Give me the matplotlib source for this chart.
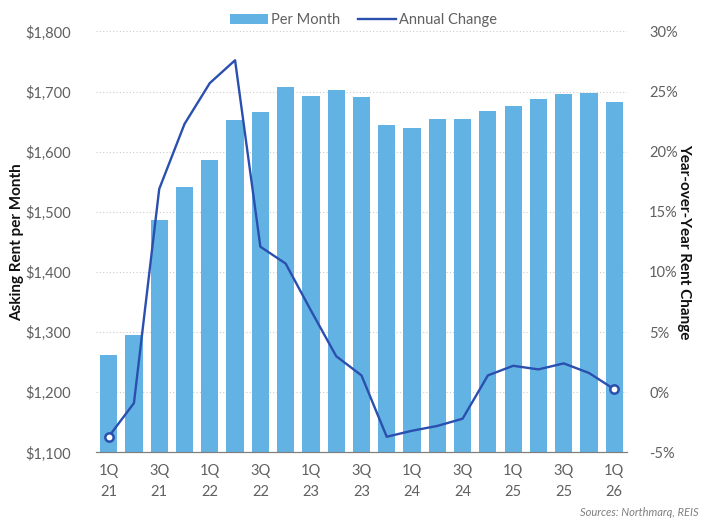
import matplotlib
matplotlib.use("Agg")
import matplotlib.pyplot as plt
from matplotlib.ticker import FuncFormatter, MultipleLocator

# quarters 1Q21 .. 1Q26
quarters = ["1Q21", "2Q21", "3Q21", "4Q21", "1Q22", "2Q22", "3Q22", "4Q22",
            "1Q23", "2Q23", "3Q23", "4Q23", "1Q24", "2Q24", "3Q24", "4Q24",
            "1Q25", "2Q25", "3Q25", "4Q25", "1Q26"]
rent_per_month = [1262, 1296, 1486, 1542, 1586, 1653, 1666, 1707, 1693, 1703,
                  1691, 1645, 1639, 1655, 1654, 1668, 1676, 1688, 1696, 1697, 1682]
annual_change = [-3.7, -0.9, 16.9, 22.3, 25.7, 27.6, 12.1, 10.7, 6.8, 3.0,
                 1.4, -3.7, -3.2, -2.8, -2.2, 1.4, 2.2, 1.9, 2.4, 1.6, 0.25]

bar_color = "#62B3E4"
line_color = "#2A4FAF"
tick_color = "#606060"

plt.rcParams["font.family"] = ["Lato", "DejaVu Sans"]

fig = plt.figure(figsize=(7.06, 5.23), dpi=100)
ax = fig.add_axes([0.136, 0.135, 0.752, 0.805])
ax2 = ax.twinx()

x = list(range(len(quarters)))
bars = ax.bar(x, rent_per_month, width=0.68, color=bar_color, zorder=2,
              label="Per Month")
line, = ax2.plot(x, annual_change, color=line_color, lw=1.7, zorder=3,
                 label="Annual Change")
ax2.plot([x[0], x[-1]], [annual_change[0], annual_change[-1]], "o",
         ms=6, mfc="white", mec=line_color, mew=1.8, zorder=4)

ax.set_xlim(-0.5, len(quarters) - 0.5)
ax.set_ylim(1100, 1800)
ax2.set_ylim(-5, 30)
ax.yaxis.set_major_locator(MultipleLocator(100))
ax2.yaxis.set_major_locator(MultipleLocator(5))
ax.yaxis.set_major_formatter(FuncFormatter(lambda v, p: f"${v:,.0f}"))
ax2.yaxis.set_major_formatter(FuncFormatter(lambda v, p: f"{v:.0f}%"))

ticks = x[::2]
ax.set_xticks(ticks)
ax.set_xticklabels([q[:2] + "\n" + q[2:] for q in quarters[::2]],
                   linespacing=1.7)

ax.grid(axis="y", linestyle=(0, (1, 2)), color="#CCCCCC", lw=0.8, zorder=0)
ax.set_axisbelow(True)

for a in (ax, ax2):
    for s in ("top", "left", "right"):
        a.spines[s].set_visible(False)
    a.spines["bottom"].set_color("#7F7F7F")
    a.tick_params(length=0, colors=tick_color, labelsize=10.5)
ax.tick_params(axis="y", pad=18)
ax2.tick_params(axis="y", pad=16)
ax.tick_params(axis="x", pad=8)

ax.set_ylabel("Asking Rent per Month", fontsize=11, fontweight="bold",
              color="#111111")
ax2.set_ylabel("Year-over-Year Rent Change", fontsize=11, fontweight="bold",
               color="#111111", rotation=270, va="center")
ax.yaxis.set_label_coords(-0.136, 0.5)
ax2.yaxis.set_label_coords(1.108, 0.5)

fig.legend(handles=[bars, line], loc="upper center", bbox_to_anchor=(0.515, 1.0),
           ncol=2, frameon=False, fontsize=10.5, labelcolor=tick_color,
           handlelength=2.6, columnspacing=1.2, handletextpad=0.2)

fig.text(0.99, 0.01, "Sources: Northmarq, REIS", ha="right", va="bottom",
         fontsize=8, style="italic", color="#7F7F7F")

fig.savefig("out.png", dpi=100)
